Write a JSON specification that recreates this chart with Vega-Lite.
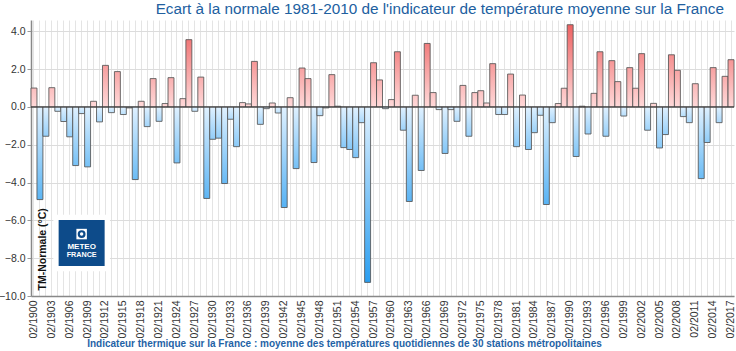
{
  "$schema": "https://vega.github.io/schema/vega-lite/v6.json",
  "width": 703,
  "height": 276,
  "autosize": {"type": "none"},
  "padding": {"left": 31, "top": 20, "right": 2, "bottom": 55},
  "background": "white",
  "config": {"font": "Liberation Sans", "view": {"stroke": null}},
  "title": {"text": "Ecart à la normale 1981-2010 de l'indicateur de température moyenne sur la France", "anchor": "end", "color": "#21609f", "fontSize": 15.3, "fontWeight": "normal", "font": "Liberation Sans", "offset": 3, "dx": -12},
  "datasets": {
    "logo": [{"d": "02/1908", "v": -7.2}]
  },
  "data": {"values": [
    {"d": "02/1900", "v": 1.0}, {"d": "02/1901", "v": -4.9}, {"d": "02/1902", "v": -1.55}, {"d": "02/1903", "v": 1.02},
    {"d": "02/1904", "v": -0.23}, {"d": "02/1905", "v": -0.77}, {"d": "02/1906", "v": -1.58}, {"d": "02/1907", "v": -3.1},
    {"d": "02/1908", "v": -0.35}, {"d": "02/1909", "v": -3.17}, {"d": "02/1910", "v": 0.3}, {"d": "02/1911", "v": -0.79},
    {"d": "02/1912", "v": 2.2}, {"d": "02/1913", "v": -0.3}, {"d": "02/1914", "v": 1.87}, {"d": "02/1915", "v": -0.4},
    {"d": "02/1916", "v": -0.05}, {"d": "02/1917", "v": -3.84}, {"d": "02/1918", "v": 0.3}, {"d": "02/1919", "v": -1.04},
    {"d": "02/1920", "v": 1.5}, {"d": "02/1921", "v": -0.76}, {"d": "02/1922", "v": 0.18}, {"d": "02/1923", "v": 1.55},
    {"d": "02/1924", "v": -2.96}, {"d": "02/1925", "v": 0.44}, {"d": "02/1926", "v": 3.56}, {"d": "02/1927", "v": -0.23},
    {"d": "02/1928", "v": 1.58}, {"d": "02/1929", "v": -4.84}, {"d": "02/1930", "v": -1.71}, {"d": "02/1931", "v": -1.65},
    {"d": "02/1932", "v": -4.05}, {"d": "02/1933", "v": -0.65}, {"d": "02/1934", "v": -2.1}, {"d": "02/1935", "v": 0.23},
    {"d": "02/1936", "v": 0.16}, {"d": "02/1937", "v": 2.41}, {"d": "02/1938", "v": -0.92}, {"d": "02/1939", "v": -0.09},
    {"d": "02/1940", "v": 0.21}, {"d": "02/1941", "v": -0.32}, {"d": "02/1942", "v": -5.32}, {"d": "02/1943", "v": 0.49},
    {"d": "02/1944", "v": -3.26}, {"d": "02/1945", "v": 2.06}, {"d": "02/1946", "v": 1.5}, {"d": "02/1947", "v": -2.94},
    {"d": "02/1948", "v": -0.46}, {"d": "02/1949", "v": -0.05}, {"d": "02/1950", "v": 1.71}, {"d": "02/1951", "v": 0.04},
    {"d": "02/1952", "v": -2.15}, {"d": "02/1953", "v": -2.25}, {"d": "02/1954", "v": -2.68}, {"d": "02/1955", "v": -0.83},
    {"d": "02/1956", "v": -9.28}, {"d": "02/1957", "v": 2.34}, {"d": "02/1958", "v": 1.43}, {"d": "02/1959", "v": -0.09},
    {"d": "02/1960", "v": 0.39}, {"d": "02/1961", "v": 2.92}, {"d": "02/1962", "v": -1.23}, {"d": "02/1963", "v": -5.0},
    {"d": "02/1964", "v": 0.62}, {"d": "02/1965", "v": -3.36}, {"d": "02/1966", "v": 3.36}, {"d": "02/1967", "v": 0.76},
    {"d": "02/1968", "v": -0.14}, {"d": "02/1969", "v": -2.46}, {"d": "02/1970", "v": -0.14}, {"d": "02/1971", "v": -0.76},
    {"d": "02/1972", "v": 1.14}, {"d": "02/1973", "v": -1.55}, {"d": "02/1974", "v": 0.76}, {"d": "02/1975", "v": 0.86},
    {"d": "02/1976", "v": 0.21}, {"d": "02/1977", "v": 2.29}, {"d": "02/1978", "v": -0.4}, {"d": "02/1979", "v": -0.4},
    {"d": "02/1980", "v": 1.74}, {"d": "02/1981", "v": -2.1}, {"d": "02/1982", "v": 0.63}, {"d": "02/1983", "v": -2.25},
    {"d": "02/1984", "v": -1.36}, {"d": "02/1985", "v": -0.44}, {"d": "02/1986", "v": -5.16}, {"d": "02/1987", "v": -0.83},
    {"d": "02/1988", "v": 0.18}, {"d": "02/1989", "v": 0.99}, {"d": "02/1990", "v": 4.35}, {"d": "02/1991", "v": -2.62},
    {"d": "02/1992", "v": 0.04}, {"d": "02/1993", "v": -1.43}, {"d": "02/1994", "v": 0.72}, {"d": "02/1995", "v": 2.92},
    {"d": "02/1996", "v": -1.55}, {"d": "02/1997", "v": 2.45}, {"d": "02/1998", "v": 1.34}, {"d": "02/1999", "v": -0.48},
    {"d": "02/2000", "v": 2.08}, {"d": "02/2001", "v": 0.99}, {"d": "02/2002", "v": 2.82}, {"d": "02/2003", "v": -1.23},
    {"d": "02/2004", "v": 0.19}, {"d": "02/2005", "v": -2.17}, {"d": "02/2006", "v": -1.46}, {"d": "02/2007", "v": 2.76},
    {"d": "02/2008", "v": 1.94}, {"d": "02/2009", "v": -0.51}, {"d": "02/2010", "v": -0.83}, {"d": "02/2011", "v": 1.23},
    {"d": "02/2012", "v": -3.79}, {"d": "02/2013", "v": -1.88}, {"d": "02/2014", "v": 2.08}, {"d": "02/2015", "v": -0.83},
    {"d": "02/2016", "v": 1.62}, {"d": "02/2017", "v": 2.5}
  ]},
  "encoding": {
    "x": {"field": "d", "type": "ordinal", "sort": null,
      "scale": {"paddingInner": 0, "paddingOuter": 0},
      "axis": {"title": "Indicateur thermique sur la France : moyenne des températures quotidiennes de 30 stations métropolitaines",
        "titleColor": "#1f63a6", "titleFontSize": 10, "titleFontWeight": "bold", "titleFont": "Liberation Sans",
        "titleX": 313, "titleY": 47, "titleAlign": "center", "titleBaseline": "middle", "titleAnchor": null,
        "labelAngle": 270, "labelFontSize": 10.5, "labelColor": "#333", "labelPadding": 4, "labelOverlap": false,
        "labelExpr": "toNumber(slice(datum.value, 3)) % 3 == 1 ? datum.value : ''",
        "ticks": false, "grid": true, "gridColor": "#e4e4e4", "gridWidth": 1, "bandPosition": 0.5,
        "domainColor": "#888", "domainWidth": 1.5}
    },
    "y": {"field": "v", "type": "quantitative",
      "scale": {"domain": [-10, 4.6], "nice": false, "zero": true},
      "axis": {"title": "TM-Normale (°C)", "titleFontSize": 10.5, "titleFontWeight": "bold", "titleColor": "#111",
        "titleAngle": 270, "titleX": 11, "titleY": 270, "titleAlign": "left", "titleBaseline": "middle", "titleAnchor": null,
        "values": [-10, -8, -6, -4, -2, 0, 2, 4], "format": ".1f",
        "labelFontSize": 10.5, "labelColor": "#333", "labelPadding": 2, "tickSize": 4, "tickColor": "#999",
        "grid": true, "gridColor": "#dcdcdc", "domainColor": "#888", "domainWidth": 1.5}
    }
  },
  "layer": [
    {
      "mark": {"type": "bar", "stroke": "#555", "strokeWidth": 1, "strokeOpacity": 0.85,
        "fill": {"expr": "datum.v >= 0 ? {gradient: 'linear', x1: 0, y1: 1, x2: 0, y2: 0, stops: [{offset: 0, color: '#ffd9d9'}, {offset: 1, color: 'rgb(' + round(255 - 17*min(1, datum.v/4.4)) + ',' + round(217 - 120*min(1, datum.v/4.4)) + ',' + round(217 - 120*min(1, datum.v/4.4)) + ')'}]} : {gradient: 'linear', x1: 0, y1: 0, x2: 0, y2: 1, stops: [{offset: 0, color: '#e0f1ff'}, {offset: 1, color: 'rgb(' + round(224 - 182*sqrt(min(1, -datum.v/9.3))) + ',' + round(241 - 83*sqrt(min(1, -datum.v/9.3))) + ',' + round(255 - 15*sqrt(min(1, -datum.v/9.3))) + ')'}]}"}
      }
    },
    {
      "data": {"name": "logo"},
      "mark": {"type": "rule", "color": "#333", "strokeWidth": 1},
      "encoding": {"y": {"datum": 0}, "x": {"value": 0}, "x2": {"value": 703}}
    },
    {
      "data": {"name": "logo"},
      "mark": {"type": "point", "shape": "square", "filled": true, "color": "white", "opacity": 1, "size": 3200}
    },
    {
      "data": {"name": "logo"},
      "mark": {"type": "point", "shape": "square", "filled": true, "color": "#0d4b8a", "opacity": 1, "size": 2116}
    },
    {
      "data": {"name": "logo"},
      "mark": {"type": "point", "shape": "square", "filled": true, "color": "white", "opacity": 1, "size": 110, "yOffset": -9}
    },
    {
      "data": {"name": "logo"},
      "mark": {"type": "point", "shape": "circle", "filled": false, "color": "#0d4b8a", "strokeWidth": 2.2, "opacity": 1, "size": 32, "yOffset": -9}
    },
    {
      "data": {"name": "logo"},
      "mark": {"type": "text", "color": "white", "fontWeight": "bold", "fontSize": 8, "font": "Liberation Sans", "yOffset": 3.5},
      "encoding": {"text": {"value": "METEO"}}
    },
    {
      "data": {"name": "logo"},
      "mark": {"type": "text", "color": "white", "fontWeight": "bold", "fontSize": 7.2, "font": "Liberation Sans", "yOffset": 12},
      "encoding": {"text": {"value": "FRANCE"}}
    }
  ]
}
